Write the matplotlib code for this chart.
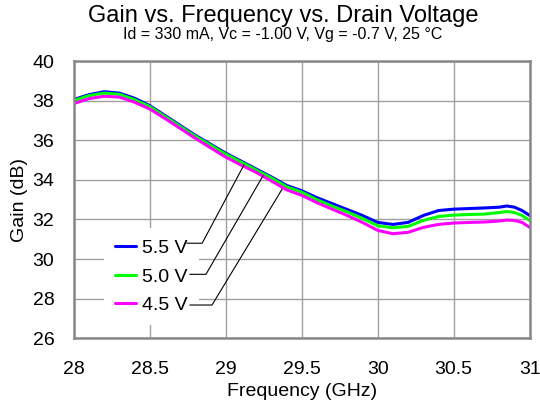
import numpy as np
import matplotlib
matplotlib.use("Agg")
import matplotlib.pyplot as plt

plt.rcParams['font.family'] = ['Liberation Sans', 'DejaVu Sans']

# frequency points (GHz)
freq = [28.0, 28.1, 28.2, 28.3, 28.4, 28.5, 28.6, 28.7, 28.8, 28.9,
        29.0, 29.1, 29.2, 29.3, 29.4, 29.5, 29.6, 29.7, 29.8, 29.9,
        30.0, 30.1, 30.2, 30.3, 30.4, 30.5, 30.6, 30.7, 30.8, 30.85,
        30.9, 30.95, 31.0]

# gain (dB) per drain voltage
gain_55 = [38.05, 38.30, 38.45, 38.38, 38.12, 37.75, 37.25, 36.75, 36.25, 35.80,
           35.35, 34.95, 34.55, 34.15, 33.72, 33.45, 33.10, 32.80, 32.50, 32.20,
           31.85, 31.75, 31.85, 32.20, 32.45, 32.52, 32.55, 32.58, 32.62, 32.68,
           32.62, 32.45, 32.20]
gain_50 = [38.00, 38.25, 38.38, 38.32, 38.05, 37.70, 37.20, 36.70, 36.20, 35.75,
           35.30, 34.90, 34.50, 34.10, 33.65, 33.38, 33.00, 32.67, 32.38, 32.05,
           31.68, 31.58, 31.65, 31.95, 32.15, 32.22, 32.25, 32.27, 32.35, 32.40,
           32.35, 32.20, 31.95]
gain_45 = [37.85, 38.10, 38.22, 38.18, 37.92, 37.58, 37.10, 36.60, 36.10, 35.62,
           35.15, 34.75, 34.38, 33.95, 33.50, 33.22, 32.85, 32.52, 32.20, 31.85,
           31.45, 31.28, 31.35, 31.60, 31.75, 31.82, 31.85, 31.87, 31.92, 31.97,
           31.95, 31.85, 31.60]

labels = ["5.5 V", "5.0 V", "4.5 V"]
colors = ["#0000ff", "#00ff00", "#ff00ff"]

# leader lines: start, knee and the frequency where each one meets its curve
leader_start_x = [28.745, 28.765, 28.765]
leader_knee_x = [28.845, 28.87, 28.91]
leader_y = [30.80, 29.23, 27.68]
leader_curve_x = [29.12, 29.245, 29.37]

fig = plt.figure(figsize=(5.4, 4.07), dpi=100)
ax = fig.add_axes([73.7 / 540, 1 - 338.3 / 407, 456 / 540, 277.3 / 407])

series = [gain_55, gain_50, gain_45]
for g, lab, c in zip(series, labels, colors):
    ax.plot(freq, g, color=c, lw=2.2, label=lab, solid_capstyle='round')

ax.set_xlim(28, 31)
ax.set_ylim(26, 40)
ax.set_xticks(np.arange(28, 31.01, 0.5))
ax.set_xticklabels(["28", "28.5", "29", "29.5", "30", "30.5", "31"])
ax.set_yticks(np.arange(26, 40.1, 2))
ax.tick_params(length=0, labelsize=14)
ax.tick_params(axis="x", pad=16)
ax.tick_params(axis="y", pad=14)
ax.grid(True, color="#a0a0a0", lw=1)
for s in ax.spines.values():
    s.set_color("#888888")
    s.set_linewidth(1.8)

ax.set_xlabel("Frequency (GHz)", fontsize=14, labelpad=4)
ax.set_ylabel("Gain (dB)", fontsize=14, labelpad=3)

leg = ax.legend(loc="upper left", bbox_to_anchor=(0.066, 0.398), fontsize=14,
                frameon=True, framealpha=1, edgecolor="none", facecolor="white",
                fancybox=False, handlelength=1.05, handletextpad=0.3,
                labelspacing=0.55, borderpad=0.6, borderaxespad=0)
leg.set_zorder(5)

for g, cx, sx, kx, ly in zip(series, leader_curve_x, leader_start_x, leader_knee_x, leader_y):
    cy = np.interp(cx, freq, g) - 0.12
    ax.plot([sx, kx, cx], [ly, ly, cy], color="black", lw=0.8, zorder=6)

fig.text(283 / 540, 1 - 22 / 407, "Gain vs. Frequency vs. Drain Voltage", ha="center",
         va="baseline", fontsize=17)
fig.text(283 / 540, 1 - 39 / 407, "Id = 330 mA, Vc = -1.00 V, Vg = -0.7 V, 25 \u00b0C",
         ha="center", va="baseline", fontsize=11.5)

fig.savefig("out.png", dpi=100)
